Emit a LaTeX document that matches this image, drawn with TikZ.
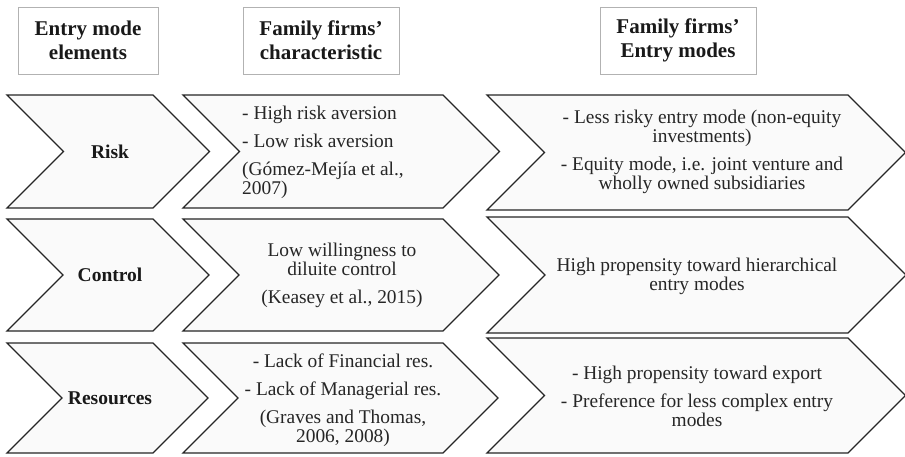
\documentclass[tikz,border=0pt]{standalone}
\usepackage{fontspec}
\setmainfont{Liberation Serif}
\usepackage{tikz}

% chevron: left x, body right x, top y, bottom y
\newcommand{\chevron}[4]{%
  \draw[chev] (#1,#3) -- (#2,#3) -- ({#2+(#4-#3)/2},{(#3+#4)/2})
    -- (#2,#4) -- (#1,#4) -- ({#1+(#4-#3)/2},{(#3+#4)/2}) -- cycle;}

\tikzset{
  chev/.style={draw=black!85, line width=1.3pt, fill=gray!4, line join=miter},
  headbox/.style={draw=gray!60, line width=0.9pt, minimum height=67pt, inner sep=0pt,
    align=center, text=black!90, font=\fontsize{21}{24}\selectfont\bfseries},
  elemtext/.style={inner sep=0pt, text=black!90, font=\fontsize{19.5}{22}\selectfont\bfseries},
  bodytext/.style={inner sep=0pt, align=center, text=black!85, font=\fontsize{19.4}{19}\selectfont}
}

\begin{document}
\begin{tikzpicture}[x=1pt, y=-1pt]
    \useasboundingbox (0,0) rectangle (905,457);

    % Tiêu đề các cột
    \node[headbox, minimum width=140pt] (elem) at (88,40.5) {Entry mode\\elements};
    \node[headbox, minimum width=156pt] (trait) at (321,40.5) {Family firms'\\characteristic};
    \node[headbox, minimum width=156pt] (modes) at (678,40.5) {Family firms'\\Entry modes};

    % Các mũi tên
    \foreach \t/\b in {95/208, 219/331, 343/453} {
        \chevron{7}{153}{\t}{\b}
        \chevron{183}{443}{\t}{\b}
    }
    \foreach \t/\b in {95/210, 217/333, 338/453} {
        \chevron{487}{848}{\t}{\b}
    }

    % Cột 1
    \node[elemtext] (risk) at (110,152) {Risk};
    \node[elemtext] (control) at (110,275) {Control};
    \node[elemtext] (resources) at (110,398) {Resources};

    % Cột 2
    \node[bodytext, anchor=west, align=left] (risktrait) at (242,152)
        {- High risk aversion\\[9pt]- Low risk aversion\\[9pt](Gómez-Mejía et al.,\\2007)};
    \node[bodytext] (controltrait) at (342,275)
        {Low willingness to\\diluite control\\[9pt](Keasey et al., 2015)};
    \node[bodytext] (restrait) at (343,400)
        {- Lack of Financial res.\\[9pt]- Lack of Managerial res.\\[9pt](Graves and Thomas,\\2006, 2008)};

    % Cột 3
    \node[bodytext] (riskmode) at (702,152)
        {- Less risky entry mode (non-equity\\investments)\\[9pt]- Equity mode, i.e. joint venture and\\wholly owned subsidiaries};
    \node[bodytext] (controlmode) at (697,276)
        {High propensity toward hierarchical\\entry modes};
    \node[bodytext] (resmode) at (697,396)
        {- High propensity toward export\\[9pt]- Preference for less complex entry\\modes};
\end{tikzpicture}
\end{document}
